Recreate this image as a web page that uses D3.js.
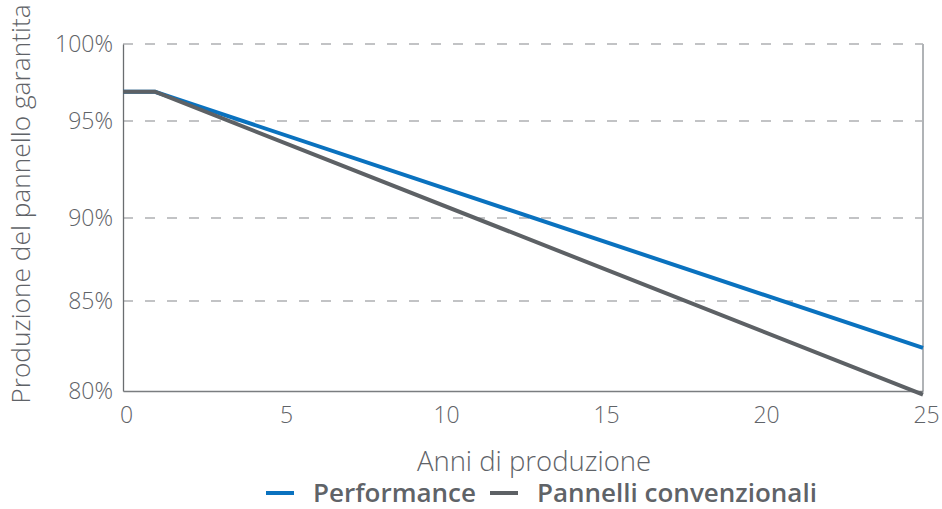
<!DOCTYPE html>
<html>
<head>
<meta charset="utf-8">
<script src="https://cdn.jsdelivr.net/npm/d3@7"></script>
<style>
  body { margin: 0; background: #fff; }
  text { font-family: "Open Sans", sans-serif; fill: #5f6368; }
</style>
</head>
<body>
<div id="chart"></div>
<script>
//chart data
var years = [0, 5, 10, 15, 20, 25];
var pctTicks = [80, 85, 90, 95, 100];
var tickLabels = ["80%", "85%", "90%", "95%", "100%"];
var seriesNames = ["Performance", "Pannelli convenzionali"];
var seriesColors = ["#0a72bf", "#5d6165"];
var performanceYears = [0, 1, 25];
var performanceValues = [96.9, 96.9, 82.4];
var convYears = [0, 1, 25];
var convValues = [96.9, 96.9, 79.8];

var W = 942, H = 509;
var plotL = 123, plotR = 923, plotT = 44, plotB = 391;

var svg = d3.select("#chart").append("svg")
    .attr("width", W)
    .attr("height", H);

var xScale = d3.scaleLinear()
    .domain([0, 25])
    .range([plotL, plotR]);

//the gridlines in the picture are not evenly spaced, so the scale is piecewise
var yScale = d3.scaleLinear()
    .domain(pctTicks)
    .range([plotB, 301, 218, 121, plotT]);

//gridlines
svg.append("g")
  .selectAll("line")
  .data(pctTicks.slice(1))
  .enter()
  .append("line")
    .attr("x1", plotL)
    .attr("x2", plotR)
    .attr("y1", function(d){ return yScale(d); })
    .attr("y2", function(d){ return yScale(d); })
    .attr("stroke", "#85888b")
    .attr("stroke-width", 1.2)
    .attr("stroke-dasharray", "10,12");

//right border
svg.append("line")
    .attr("x1", plotR).attr("x2", plotR)
    .attr("y1", plotT).attr("y2", plotB)
    .attr("stroke", "#b0b3b6")
    .attr("stroke-width", 2);

//axes
var yAxis = svg.append("g")
    .attr("transform", "translate(" + plotL + ",0)")
    .call(d3.axisLeft(yScale).tickValues(pctTicks).tickSize(0).tickPadding(10)
      .tickFormat(function(d, i){ return tickLabels[i]; }));

var xAxis = svg.append("g")
    .attr("transform", "translate(0," + plotB + ")")
    .call(d3.axisBottom(xScale).tickValues(years).tickSize(0).tickPadding(16));

yAxis.select(".domain").attr("stroke", "#6a6d70").attr("stroke-width", 1.3);
xAxis.select(".domain").attr("stroke", "#7a7d80").attr("stroke-width", 1.3);

svg.selectAll(".tick text")
    .style("font-family", "'Open Sans', sans-serif")
    .style("font-size", "23px")
    .style("font-weight", 300)
    .attr("fill", "#5a5e62");
xAxis.selectAll(".tick text").attr("dx", 3);
yAxis.selectAll(".tick text").attr("dy", "0.32em");

//lines
var line = d3.line()
    .x(function(d){ return xScale(d.year); })
    .y(function(d){ return yScale(d.value); });

var perfData = performanceYears.map(function(y, i){ return {year: y, value: performanceValues[i]}; });
var convData = convYears.map(function(y, i){ return {year: y, value: convValues[i]}; });

svg.append("path")
    .datum(perfData)
    .attr("d", line)
    .attr("fill", "none")
    .attr("stroke", seriesColors[0])
    .attr("stroke-width", 4);

svg.append("path")
    .datum(convData)
    .attr("d", line)
    .attr("fill", "none")
    .attr("stroke", seriesColors[1])
    .attr("stroke-width", 4);

//axis titles
svg.append("text")
    .attr("x", 534)
    .attr("y", 471)
    .attr("text-anchor", "middle")
    .style("font-size", "27.5px")
    .style("font-weight", 300)
    .text("Anni di produzione");

svg.append("text")
    .attr("transform", "translate(30,204) rotate(-90)")
    .attr("text-anchor", "middle")
    .style("font-size", "26.3px")
    .style("font-weight", 300)
    .text("Produzione del pannello garantita");

//legend
var legendX = [266, 490];
var legend = svg.append("g");
seriesNames.forEach(function(name, i){
  legend.append("line")
      .attr("x1", legendX[i]).attr("x2", legendX[i] + 28)
      .attr("y1", 493).attr("y2", 493)
      .attr("stroke", seriesColors[i])
      .attr("stroke-width", 4);
  legend.append("text")
      .attr("x", legendX[i] + 47)
      .attr("y", 502)
      .style("font-size", "26px")
      .style("font-weight", 600)
      .text(name);
});
</script>
</body>
</html>
